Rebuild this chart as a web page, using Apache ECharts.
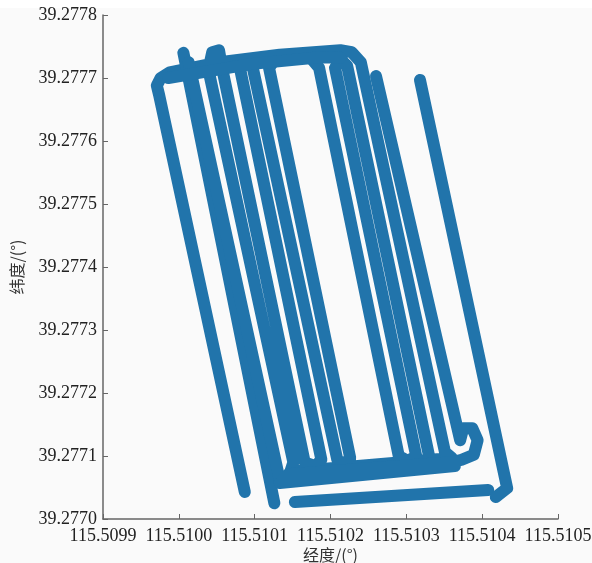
<!DOCTYPE html>
<html>
<head>
<meta charset="utf-8">
<script src="https://cdn.jsdelivr.net/npm/echarts@6/dist/echarts.min.js"></script>
<style>html,body{margin:0;padding:0;background:#fafafa;}#c{width:592px;height:563px;}</style>
</head>
<body>
<div id="c"></div>
<script>
// Axis tick values
const lonTicks = [115.5099, 115.5100, 115.5101, 115.5102, 115.5103, 115.5104, 115.5105];
const latTicks = [39.2770, 39.2771, 39.2772, 39.2773, 39.2774, 39.2775, 39.2776, 39.2777, 39.2778];

// Trajectory (longitude / latitude), null separates disconnected pieces
const trackLon = [
  115.510087, 115.509974, 115.509971, 115.509976, 115.509988, 115.510054, 115.510133, 115.510213,
  115.510228, 115.510240, 115.510351, 115.510360, 115.510147, 115.510151, 115.510039, 115.510044,
  115.510053, 115.510057, 115.510166, 115.510180, 115.510188, 115.510081, 115.510089, 115.510097,
  115.510209, 115.510218, 115.510226, 115.510119, 115.510128, 115.510173, 115.510185, 115.510290,
  115.510302, 115.510313, 115.510206, 115.510214, 115.510222, 115.510330,
  null,
  115.510006, 115.510126,
  null,
  115.510013, 115.510133,
  null,
  115.510260, 115.510371, 115.510375, 115.510387, 115.510394, 115.510389, 115.510373, 115.510360,
  115.510144, 115.510133, 115.510364,
  null,
  115.510153, 115.510408,
  null,
  115.510318, 115.510433, 115.510418,
  null,
  115.509986, 115.510094, 115.510186, 115.510213
];
const trackLat = [
  39.277043, 39.277673, 39.277688, 39.277700, 39.277709, 39.277725, 39.277737, 39.277744,
  39.277741, 39.277725, 39.277106, 39.277097, 39.277075, 39.277090, 39.277713, 39.277741,
  39.277744, 39.277716, 39.277090, 39.277084, 39.277094, 39.277713, 39.277725, 39.277719,
  39.277094, 39.277087, 39.277097, 39.277716, 39.277732, 39.277733, 39.277716, 39.277100,
  39.277092, 39.277100, 39.277716, 39.277729, 39.277719, 39.277100,
  null,
  39.277740, 39.277025,
  null,
  39.277725, 39.277062,
  null,
  39.277703, 39.277125, 39.277144, 39.277144, 39.277125, 39.277102, 39.277094, 39.277090,
  39.277071, 39.277057, 39.277084,
  null,
  39.277027, 39.277046,
  null,
  39.277697, 39.277049, 39.277035,
  null,
  39.277700, 39.277722, 39.277733, 39.277732
];

const segments = [];
let cur = [];
for (let i = 0; i < trackLon.length; i++) {
  if (trackLon[i] === null) { if (cur.length) segments.push(cur); cur = []; }
  else cur.push([trackLon[i], trackLat[i]]);
}
if (cur.length) segments.push(cur);

const lineColor = '#2174ab';
const series = segments.map(seg => ({
  type: 'line', data: seg, symbol: 'none', smooth: false, silent: true,
  lineStyle: { color: lineColor, width: 12, cap: 'round', join: 'round' }
}));

const serif = '"Liberation Serif", "Times New Roman", serif';
const chart = echarts.init(document.getElementById('c'), null, { renderer: 'canvas' });
chart.setOption({
  backgroundColor: '#fafafa',
  animation: false,
  graphic: [{ type: 'rect', shape: { x: 0, y: 0, width: 592, height: 8 }, style: { fill: '#ffffff' }, z: -10 }],
  grid: { left: 103, right: 34, top: 15, bottom: 44, containLabel: false, outerBoundsMode: 'none' },
  xAxis: {
    type: 'value', min: lonTicks[0], max: lonTicks[lonTicks.length - 1], interval: 0.0001,
    name: '经度/(°)', nameLocation: 'middle', nameGap: 28, nameMoveOverlap: false,
    nameTextStyle: { fontFamily: '"Noto Sans CJK SC", sans-serif', fontSize: 16, color: '#333' },
    axisLine: { show: true, lineStyle: { color: '#666', width: 1.5 } },
    axisTick: { show: true, inside: true, length: 5, lineStyle: { color: '#666' } },
    axisLabel: { fontFamily: serif, fontSize: 18, color: '#222', margin: 8,
      formatter: v => v.toFixed(4) },
    splitLine: { show: false }
  },
  yAxis: {
    type: 'value', min: latTicks[0], max: latTicks[latTicks.length - 1], interval: 0.0001,
    name: '纬度/(°)', nameLocation: 'middle', nameGap: 78, nameRotate: 90, nameMoveOverlap: false,
    nameTextStyle: { fontFamily: '"Noto Sans CJK SC", sans-serif', fontSize: 16, color: '#333' },
    axisLine: { show: true, lineStyle: { color: '#666', width: 1.5 } },
    axisTick: { show: true, inside: true, length: 5, lineStyle: { color: '#666' } },
    axisLabel: { fontFamily: serif, fontSize: 18, color: '#222', margin: 6,
      formatter: v => v.toFixed(4) },
    splitLine: { show: false }
  },
  series: series
});
</script>
</body>
</html>
